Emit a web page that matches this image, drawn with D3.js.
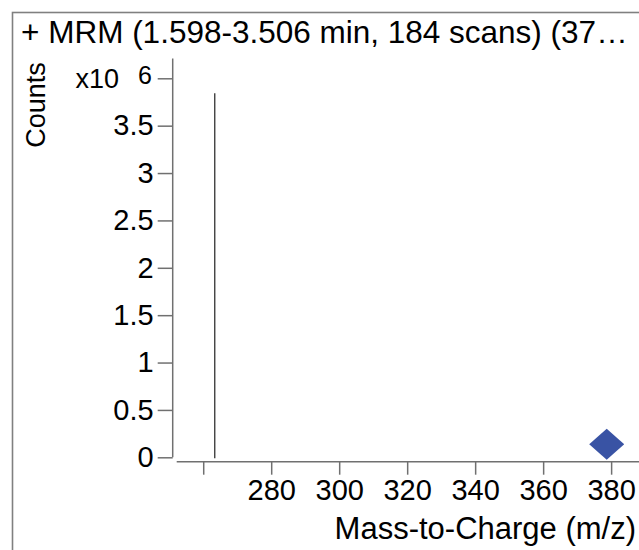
<!DOCTYPE html>
<html>
<head>
<meta charset="utf-8">
<script src="https://cdn.jsdelivr.net/npm/d3@7.9.0/dist/d3.min.js"></script>
<style>
  body { margin: 0; background: #fff; }
  svg { display: block; font-family: "Liberation Sans", Arial, sans-serif; }
</style>
</head>
<body>
<svg id="chart" width="639" height="550"></svg>
<script>
// spectrum data
const peakMz = [263.4];
const peakCounts = [3.842e6];
const precursorMz = [378.7];
const xTicks = [260, 280, 300, 320, 340, 360, 380];
const yTicks = [0, 0.5e6, 1e6, 1.5e6, 2e6, 2.5e6, 3e6, 3.5e6, 4e6];
const title = '+ MRM (1.598-3.506 min, 184 scans) (37…';

const svg = d3.select('#chart');

// outer frame (cut off at right/bottom)
svg.append('rect')
  .attr('x', 12.5).attr('y', 12.5)
  .attr('width', 700).attr('height', 700)
  .attr('fill', 'none')
  .attr('stroke', '#808080')
  .attr('stroke-width', 1.6);

svg.append('text')
  .attr('x', 21).attr('y', 43)
  .attr('font-size', 31.5)
  .attr('fill', '#000')
  .text(title);

let x = d3.scaleLinear().domain([252.2, 388.2]).range([176.7, 639]);
let y = d3.scaleLinear().domain([0, 4.21e6]).range([457.3, 58.4]);

const axisColor = '#707070';

// y axis
let yAxis = d3.axisLeft(y)
  .tickValues(yTicks)
  .tickSize(15)
  .tickPadding(4)
  .tickFormat(d => d === 4e6 ? '' : d3.format('~g')(d / 1e6));

let gy = svg.append('g')
  .attr('transform', 'translate(172.7,0)')
  .call(yAxis);
gy.select('.domain').attr('d', `M0,${y.range()[1]}V${y(0)}`);

// x axis sits a few pixels below the y baseline
let xAxis = d3.axisBottom(x)
  .tickValues(xTicks)
  .tickSize(13)
  .tickPadding(5)
  .tickFormat(d => d === 260 ? '' : d);

let gx = svg.append('g')
  .attr('transform', `translate(0,${y(0) + 4.4})`)
  .call(xAxis);
gx.select('.domain').attr('d', `M${x.range()[0]},0H${x.range()[1]}`);

[gx, gy].forEach(g => {
  g.select('.domain').attr('stroke', axisColor).attr('stroke-width', 1.5);
  g.selectAll('.tick line').attr('stroke', axisColor).attr('stroke-width', 1.5);
  g.selectAll('.tick text').attr('font-size', 29).attr('fill', '#000')
    .attr('font-family', '"Liberation Sans", Arial, sans-serif');
});

// multiplier label
svg.append('text')
  .attr('x', 119).attr('y', 88)
  .attr('text-anchor', 'end')
  .attr('font-size', 27)
  .text('x10');
svg.append('text')
  .attr('x', 138).attr('y', 84)
  .attr('font-size', 25)
  .text('6');

// axis titles
svg.append('text')
  .attr('transform', 'translate(45,105) rotate(-90)')
  .attr('text-anchor', 'middle')
  .attr('font-size', 27)
  .text('Counts');

svg.append('text')
  .attr('x', 636).attr('y', 539)
  .attr('text-anchor', 'end')
  .attr('font-size', 31)
  .text('Mass-to-Charge (m/z)');

// peaks
svg.selectAll('.peak')
  .data(peakMz)
  .join('line')
  .attr('class', 'peak')
  .attr('x1', d => x(d)).attr('x2', d => x(d))
  .attr('y1', y(0) + 1)
  .attr('y2', (d, i) => y(peakCounts[i]))
  .attr('stroke', '#222')
  .attr('stroke-width', 1.2);

// precursor marker
svg.selectAll('.precursor')
  .data(precursorMz)
  .join('path')
  .attr('class', 'precursor')
  .attr('transform', d => `translate(${x(d)},${y(0) - 13})`)
  .attr('d', 'M0,-15.5L17.5,0L0,15.5L-17.5,0Z')
  .attr('fill', '#3953a4');
</script>
</body>
</html>
